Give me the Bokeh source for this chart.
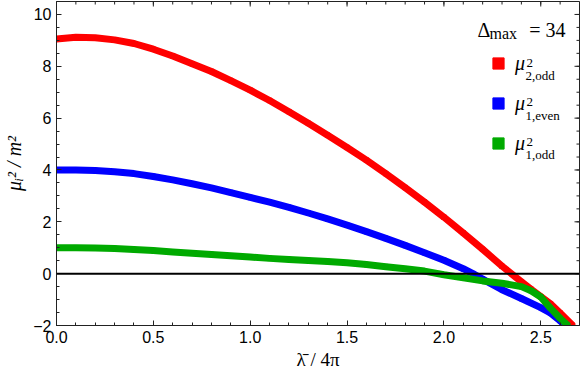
from bokeh.plotting import figure
from bokeh.models import (Range1d, FixedTicker, Span, Label, Legend, LegendItem)
from bokeh.embed import file_html
from bokeh.resources import INLINE

# ---- data ----
x_red = [0.0, 0.1, 0.2, 0.3, 0.4, 0.5, 0.6, 0.7, 0.8, 0.9, 1.0, 1.1, 1.2, 1.3,
         1.4, 1.5, 1.6, 1.7, 1.8, 1.9, 2.0, 2.1, 2.2, 2.3, 2.4, 2.45, 2.5,
         2.55, 2.6, 2.665]
y_red = [9.05, 9.12, 9.10, 9.02, 8.88, 8.66, 8.40, 8.10, 7.80, 7.45, 7.08, 6.68,
         6.25, 5.80, 5.34, 4.87, 4.38, 3.86, 3.32, 2.76, 2.18, 1.57, 0.94, 0.29,
         -0.31, -0.60, -0.88, -1.16, -1.52, -2.00]

x_blue = [0.0, 0.1, 0.2, 0.3, 0.4, 0.5, 0.6, 0.7, 0.8, 0.9, 1.0, 1.1, 1.2, 1.3,
          1.4, 1.5, 1.6, 1.7, 1.8, 1.9, 2.0, 2.1, 2.15, 2.2, 2.3, 2.4, 2.5,
          2.55, 2.6, 2.625]
y_blue = [4.00, 4.00, 3.98, 3.93, 3.86, 3.75, 3.62, 3.47, 3.31, 3.13, 2.94, 2.76,
          2.56, 2.34, 2.11, 1.87, 1.62, 1.36, 1.09, 0.81, 0.52, 0.19, 0.00,
          -0.21, -0.62, -0.96, -1.31, -1.52, -1.82, -2.00]

x_green = [0.0, 0.1, 0.2, 0.3, 0.4, 0.5, 0.6, 0.7, 0.8, 0.9, 1.0, 1.1, 1.2, 1.3,
           1.4, 1.5, 1.6, 1.7, 1.8, 1.9, 2.0, 2.1, 2.2, 2.3, 2.4, 2.45, 2.5,
           2.55, 2.6, 2.64]
y_green = [1.00, 1.00, 0.99, 0.97, 0.93, 0.89, 0.84, 0.79, 0.74, 0.69, 0.64,
           0.59, 0.55, 0.51, 0.47, 0.42, 0.35, 0.27, 0.19, 0.10, -0.04, -0.16,
           -0.28, -0.37, -0.50, -0.66, -0.90, -1.33, -1.72, -2.00]

x_ticks = [0.0, 0.5, 1.0, 1.5, 2.0, 2.5]
x_tick_labels = ["0.0", "0.5", "1.0", "1.5", "2.0", "2.5"]
y_ticks = [-2, 0, 2, 4, 6, 8, 10]
y_tick_labels = ["\u22122", "0", "2", "4", "6", "8", "10"]

XMIN, XMAX = 0.0, 2.70
YMIN, YMAX = -2.0, 10.5

RED, BLUE, GREEN = "#FF0000", "#0000FF", "#00AA00"
AX = "#222222"
SANS = "Liberation Sans"
SERIF = "Liberation Serif"

W, H = 581, 377
BL, BR, BT, BB = 56, 2, 1, 52

p = figure(width=W, height=H, output_backend="svg", toolbar_location=None,
           x_range=Range1d(XMIN, XMAX), y_range=Range1d(YMIN, YMAX),
           min_border_left=BL, min_border_right=BR, min_border_top=BT,
           min_border_bottom=BB)
p.grid.visible = False
p.outline_line_color = AX
p.outline_line_width = 1
p.background_fill_color = "white"
p.border_fill_color = "white"

x_minor = [round(0.1 * i, 1) for i in range(0, 28)]
y_minor = [round(-2 + 0.5 * i, 1) for i in range(0, 26)]
xt = FixedTicker(ticks=x_ticks, minor_ticks=x_minor)
yt = FixedTicker(ticks=y_ticks, minor_ticks=y_minor)

for ax in (p.below[0], p.left[0]):
    ax.axis_line_color = AX
    ax.major_tick_line_color = AX
    ax.minor_tick_line_color = AX
    ax.major_tick_in = 5
    ax.major_tick_out = 0
    ax.minor_tick_in = 3
    ax.minor_tick_out = 0
    ax.major_label_text_font = SANS
    ax.major_label_text_color = "black"
    ax.major_label_text_font_size = "16px"
    ax.major_label_standoff = 5
    ax.axis_label_text_font = SERIF
    ax.axis_label_text_color = "black"

bx = p.below[0]
bx.ticker = xt
bx.major_label_overrides = dict(zip(x_ticks, x_tick_labels))
bx.axis_label = "\u03bb\u0304 / 4\u03c0"
bx.axis_label_text_font_style = "normal"
bx.axis_label_text_font_size = "19px"
bx.axis_label_standoff = 3

ly = p.left[0]
ly.ticker = yt
ly.major_label_overrides = dict(zip(y_ticks, y_tick_labels))
ly.axis_label = "\u03bc\u1d62\u00b2 / m\u00b2"
ly.axis_label_text_font_style = "italic"
ly.axis_label_text_font_size = "20px"
ly.axis_label_standoff = 5

# mirror ticks on the top and right frame edges (from the same tick lists)
fw = W - BL - BR
fh = H - BT - BB
dx = (XMAX - XMIN) / fw
dy = (YMAX - YMIN) / fh
p.segment(x0=x_ticks, y0=[YMAX] * len(x_ticks), x1=x_ticks,
          y1=[YMAX - 5 * dy] * len(x_ticks), line_color=AX, line_width=1)
p.segment(x0=x_minor, y0=[YMAX] * len(x_minor), x1=x_minor,
          y1=[YMAX - 3 * dy] * len(x_minor), line_color=AX, line_width=1)
p.segment(x0=[XMAX] * len(y_ticks), y0=y_ticks, x1=[XMAX - 5 * dx] * len(y_ticks),
          y1=y_ticks, line_color=AX, line_width=1)
p.segment(x0=[XMAX] * len(y_minor), y0=y_minor, x1=[XMAX - 3 * dx] * len(y_minor),
          y1=y_minor, line_color=AX, line_width=1)

# ---- series ----
series = [(x_red, y_red, RED), (x_blue, y_blue, BLUE), (x_green, y_green, GREEN)]
scat = []
for xs, ys, c in series:
    p.line(xs, ys, line_color=c, line_width=7, line_join="round", line_cap="butt")
    r = p.scatter(xs, ys, marker="square", size=4.5, fill_color=c, line_color=c)
    scat.append(r)

p.add_layout(Span(location=0, dimension="width", line_color="black",
                  line_width=2, level="overlay"))

# ---- legend ----
legend = Legend(items=[LegendItem(label="\u03bc", renderers=[r]) for r in scat],
                location="top_right", margin=48, padding=0,
                glyph_width=28, glyph_height=28, label_standoff=3,
                label_width=16, label_height=0, spacing=12,
                label_text_font=SERIF, label_text_font_style="italic",
                label_text_font_size="20px", label_text_color="black",
                background_fill_alpha=0, border_line_alpha=0)
p.add_layout(legend)


def lab(text, dx_right, dy_top, size, style="normal", align="left"):
    p.add_layout(Label(x=XMAX, y=YMAX, x_offset=-dx_right, y_offset=-dy_top,
                       text=text, text_font=SERIF,
                       text_font_size=f"{size}px", text_font_style=style,
                       text_align=align, text_baseline="alphabetic",
                       text_color="black"))


lab("\u0394", 102, 28, 20)
lab("max", 90, 32, 16)
lab("= 34", 14, 28, 20, align="right")

leg_subs = ["2,odd", "1,even", "1,odd"]
for i, sub in enumerate(leg_subs):
    d = 39.5 * i
    lab("2", 53, 61 + d, 13)
    lab(sub, 54, 74 + d, 13)

open("out.html", "w").write(file_html(p, INLINE))
